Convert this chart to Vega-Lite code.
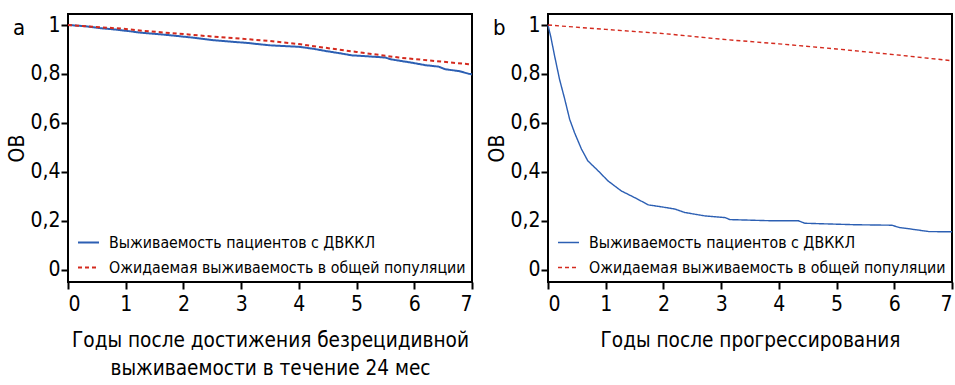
{
  "$schema": "https://vega.github.io/schema/vega-lite/v6.json",
  "padding": {"left": 5, "top": 13, "right": 2, "bottom": 2},
  "spacing": 8,
  "datasets": {
    "a": [
      {"t": 0, "v": 1.0, "s": "Выживаемость пациентов с ДВККЛ"},
      {"t": 0.3, "v": 0.995, "s": "Выживаемость пациентов с ДВККЛ"},
      {"t": 0.56, "v": 0.987, "s": "Выживаемость пациентов с ДВККЛ"},
      {"t": 0.8, "v": 0.982, "s": "Выживаемость пациентов с ДВККЛ"},
      {"t": 1.02, "v": 0.976, "s": "Выживаемость пациентов с ДВККЛ"},
      {"t": 1.25, "v": 0.969, "s": "Выживаемость пациентов с ДВККЛ"},
      {"t": 1.6, "v": 0.962, "s": "Выживаемость пациентов с ДВККЛ"},
      {"t": 1.9, "v": 0.955, "s": "Выживаемость пациентов с ДВККЛ"},
      {"t": 2.18, "v": 0.948, "s": "Выживаемость пациентов с ДВККЛ"},
      {"t": 2.52, "v": 0.938, "s": "Выживаемость пациентов с ДВККЛ"},
      {"t": 2.87, "v": 0.931, "s": "Выживаемость пациентов с ДВККЛ"},
      {"t": 3.1, "v": 0.927, "s": "Выживаемость пациентов с ДВККЛ"},
      {"t": 3.33, "v": 0.921, "s": "Выживаемость пациентов с ДВККЛ"},
      {"t": 3.5, "v": 0.917, "s": "Выживаемость пациентов с ДВККЛ"},
      {"t": 4.0, "v": 0.911, "s": "Выживаемость пациентов с ДВККЛ"},
      {"t": 4.25, "v": 0.903, "s": "Выживаемость пациентов с ДВККЛ"},
      {"t": 4.46, "v": 0.894, "s": "Выживаемость пациентов с ДВККЛ"},
      {"t": 4.7, "v": 0.885, "s": "Выживаемость пациентов с ДВККЛ"},
      {"t": 4.92, "v": 0.876, "s": "Выживаемость пациентов с ДВККЛ"},
      {"t": 5.2, "v": 0.872, "s": "Выживаемость пациентов с ДВККЛ"},
      {"t": 5.5, "v": 0.867, "s": "Выживаемость пациентов с ДВККЛ"},
      {"t": 5.59, "v": 0.86, "s": "Выживаемость пациентов с ДВККЛ"},
      {"t": 5.8, "v": 0.852, "s": "Выживаемость пациентов с ДВККЛ"},
      {"t": 5.96, "v": 0.846, "s": "Выживаемость пациентов с ДВККЛ"},
      {"t": 6.19, "v": 0.836, "s": "Выживаемость пациентов с ДВККЛ"},
      {"t": 6.42, "v": 0.83, "s": "Выживаемость пациентов с ДВККЛ"},
      {"t": 6.54, "v": 0.819, "s": "Выживаемость пациентов с ДВККЛ"},
      {"t": 6.77, "v": 0.812, "s": "Выживаемость пациентов с ДВККЛ"},
      {"t": 6.94, "v": 0.801, "s": "Выживаемость пациентов с ДВККЛ"},
      {"t": 7.0, "v": 0.798, "s": "Выживаемость пациентов с ДВККЛ"},
      {"t": 0, "v": 1.0, "s": "Ожидаемая выживаемость в общей популяции"},
      {"t": 1, "v": 0.984, "s": "Ожидаемая выживаемость в общей популяции"},
      {"t": 1.31, "v": 0.976, "s": "Ожидаемая выживаемость в общей популяции"},
      {"t": 2, "v": 0.963, "s": "Ожидаемая выживаемость в общей популяции"},
      {"t": 2.18, "v": 0.959, "s": "Ожидаемая выживаемость в общей популяции"},
      {"t": 3, "v": 0.944, "s": "Ожидаемая выживаемость в общей популяции"},
      {"t": 3.5, "v": 0.935, "s": "Ожидаемая выживаемость в общей популяции"},
      {"t": 4, "v": 0.922, "s": "Ожидаемая выживаемость в общей популяции"},
      {"t": 4.58, "v": 0.903, "s": "Ожидаемая выживаемость в общей популяции"},
      {"t": 5, "v": 0.89, "s": "Ожидаемая выживаемость в общей популяции"},
      {"t": 5.73, "v": 0.867, "s": "Ожидаемая выживаемость в общей популяции"},
      {"t": 6, "v": 0.861, "s": "Ожидаемая выживаемость в общей популяции"},
      {"t": 6.94, "v": 0.84, "s": "Ожидаемая выживаемость в общей популяции"},
      {"t": 7, "v": 0.838, "s": "Ожидаемая выживаемость в общей популяции"}
    ],
    "b": [
      {"t": 0, "v": 1.0, "s": "Выживаемость пациентов с ДВККЛ"},
      {"t": 0.05, "v": 0.95, "s": "Выживаемость пациентов с ДВККЛ"},
      {"t": 0.115, "v": 0.873, "s": "Выживаемость пациентов с ДВККЛ"},
      {"t": 0.2, "v": 0.778, "s": "Выживаемость пациентов с ДВККЛ"},
      {"t": 0.29, "v": 0.697, "s": "Выживаемость пациентов с ДВККЛ"},
      {"t": 0.375, "v": 0.615, "s": "Выживаемость пациентов с ДВККЛ"},
      {"t": 0.46, "v": 0.56, "s": "Выживаемость пациентов с ДВККЛ"},
      {"t": 0.58, "v": 0.493, "s": "Выживаемость пациентов с ДВККЛ"},
      {"t": 0.69, "v": 0.445, "s": "Выживаемость пациентов с ДВККЛ"},
      {"t": 0.87, "v": 0.404, "s": "Выживаемость пациентов с ДВККЛ"},
      {"t": 1.04, "v": 0.363, "s": "Выживаемость пациентов с ДВККЛ"},
      {"t": 1.27, "v": 0.322, "s": "Выживаемость пациентов с ДВККЛ"},
      {"t": 1.5, "v": 0.295, "s": "Выживаемость пациентов с ДВККЛ"},
      {"t": 1.74, "v": 0.265, "s": "Выживаемость пациентов с ДВККЛ"},
      {"t": 1.97, "v": 0.257, "s": "Выживаемость пациентов с ДВККЛ"},
      {"t": 2.2, "v": 0.248, "s": "Выживаемость пациентов с ДВККЛ"},
      {"t": 2.37, "v": 0.234, "s": "Выживаемость пациентов с ДВККЛ"},
      {"t": 2.72, "v": 0.22, "s": "Выживаемость пациентов с ДВККЛ"},
      {"t": 3.07, "v": 0.213, "s": "Выживаемость пациентов с ДВККЛ"},
      {"t": 3.15, "v": 0.205, "s": "Выживаемость пациентов с ДВККЛ"},
      {"t": 3.9, "v": 0.2, "s": "Выживаемость пациентов с ДВККЛ"},
      {"t": 4.34, "v": 0.2, "s": "Выживаемость пациентов с ДВККЛ"},
      {"t": 4.45, "v": 0.19, "s": "Выживаемость пациентов с ДВККЛ"},
      {"t": 5.32, "v": 0.184, "s": "Выживаемость пациентов с ДВККЛ"},
      {"t": 5.96, "v": 0.182, "s": "Выживаемость пациентов с ДВККЛ"},
      {"t": 6.08, "v": 0.173, "s": "Выживаемость пациентов с ДВККЛ"},
      {"t": 6.3, "v": 0.166, "s": "Выживаемость пациентов с ДВККЛ"},
      {"t": 6.6, "v": 0.156, "s": "Выживаемость пациентов с ДВККЛ"},
      {"t": 7.0, "v": 0.155, "s": "Выживаемость пациентов с ДВККЛ"},
      {"t": 0, "v": 1.0, "s": "Ожидаемая выживаемость в общей популяции"},
      {"t": 1, "v": 0.982, "s": "Ожидаемая выживаемость в общей популяции"},
      {"t": 2, "v": 0.965, "s": "Ожидаемая выживаемость в общей популяции"},
      {"t": 2.66, "v": 0.95, "s": "Ожидаемая выживаемость в общей популяции"},
      {"t": 3, "v": 0.942, "s": "Ожидаемая выживаемость в общей популяции"},
      {"t": 4, "v": 0.923, "s": "Ожидаемая выживаемость в общей популяции"},
      {"t": 5, "v": 0.902, "s": "Ожидаемая выживаемость в общей популяции"},
      {"t": 6, "v": 0.879, "s": "Ожидаемая выживаемость в общей популяции"},
      {"t": 7, "v": 0.854, "s": "Ожидаемая выживаемость в общей популяции"}
    ]
  },
  "config": {
    "font": "'DejaVu Sans Condensed', Roboto, sans-serif",
    "view": {"stroke": "black", "strokeWidth": 2},
    "axis": {
      "domain": false, "grid": false, "tickColor": "black", "tickWidth": 2, "tickSize": 7,
      "labelColor": "black", "labelFontSize": 21,
      "titleColor": "black", "titleFontSize": 20.6, "titleFontWeight": "normal"
    },
    "axisX": {"labelPadding": 4, "titlePadding": 16, "titleLineHeight": 28},
    "axisY": {"labelPadding": 1, "titlePadding": 2, "titleFontSize": 21},
    "legend": {
      "orient": "none", "legendX": 9, "legendY": 217, "padding": 0,
      "symbolType": "stroke", "symbolSize": 441, "labelFontSize": 15.8, "labelColor": "black",
      "labelOffset": 9, "rowPadding": 5, "title": null, "labelLimit": 400
    },
    "title": {"fontSize": 22, "fontWeight": "normal", "color": "black", "anchor": "start", "frame": "group"}
  },
  "resolve": {"scale": {"color": "independent", "strokeDash": "independent"}},
  "hconcat": [
    {
      "title": {"text": "a", "dx": -55, "dy": 0, "offset": -43, "baseline": "alphabetic"},
      "width": 404, "height": 268,
      "data": {"name": "a"},
      "mark": {"type": "line", "strokeWidth": 2},
      "encoding": {
        "x": {"field": "t", "type": "quantitative", "scale": {"domain": [0, 7], "nice": false},
          "axis": {"values": [0,1,2,3,4,5,6,7], "title": ["Годы после достижения безрецидивной", "выживаемости в течение 24 мес"]}},
        "y": {"field": "v", "type": "quantitative", "scale": {"domain": [-0.05, 1.045], "nice": false, "zero": false},
          "axis": {"values": [0, 0.2, 0.4, 0.6, 0.8, 1], "labelExpr": "replace(toString(datum.value), '.', ',')", "title": "ОВ"}},
        "color": {"field": "s", "type": "nominal", "sort": null,
          "scale": {"domain": ["Выживаемость пациентов с ДВККЛ", "Ожидаемая выживаемость в общей популяции"], "range": ["#2c5fb3", "#d42a1e"]},
          "legend": {"symbolStrokeWidth": 2}},
        "strokeDash": {"field": "s", "type": "nominal", "sort": null,
          "scale": {"domain": ["Выживаемость пациентов с ДВККЛ", "Ожидаемая выживаемость в общей популяции"], "range": [[1, 0], [4, 3]]}}
      }
    },
    {
      "title": {"text": "b", "dx": -55, "dy": 0, "offset": -43, "baseline": "alphabetic"},
      "width": 404, "height": 268,
      "data": {"name": "b"},
      "mark": {"type": "line", "strokeWidth": 1.4},
      "encoding": {
        "x": {"field": "t", "type": "quantitative", "scale": {"domain": [0, 7], "nice": false},
          "axis": {"values": [0,1,2,3,4,5,6,7], "title": "Годы после прогрессирования"}},
        "y": {"field": "v", "type": "quantitative", "scale": {"domain": [-0.05, 1.045], "nice": false, "zero": false},
          "axis": {"values": [0, 0.2, 0.4, 0.6, 0.8, 1], "labelExpr": "replace(toString(datum.value), '.', ',')", "title": "ОВ"}},
        "color": {"field": "s", "type": "nominal", "sort": null,
          "scale": {"domain": ["Выживаемость пациентов с ДВККЛ", "Ожидаемая выживаемость в общей популяции"], "range": ["#2c5fb3", "#d42a1e"]},
          "legend": {"symbolStrokeWidth": 1.4}},
        "strokeDash": {"field": "s", "type": "nominal", "sort": null,
          "scale": {"domain": ["Выживаемость пациентов с ДВККЛ", "Ожидаемая выживаемость в общей популяции"], "range": [[1, 0], [4, 3]]}}
      }
    }
  ]
}
